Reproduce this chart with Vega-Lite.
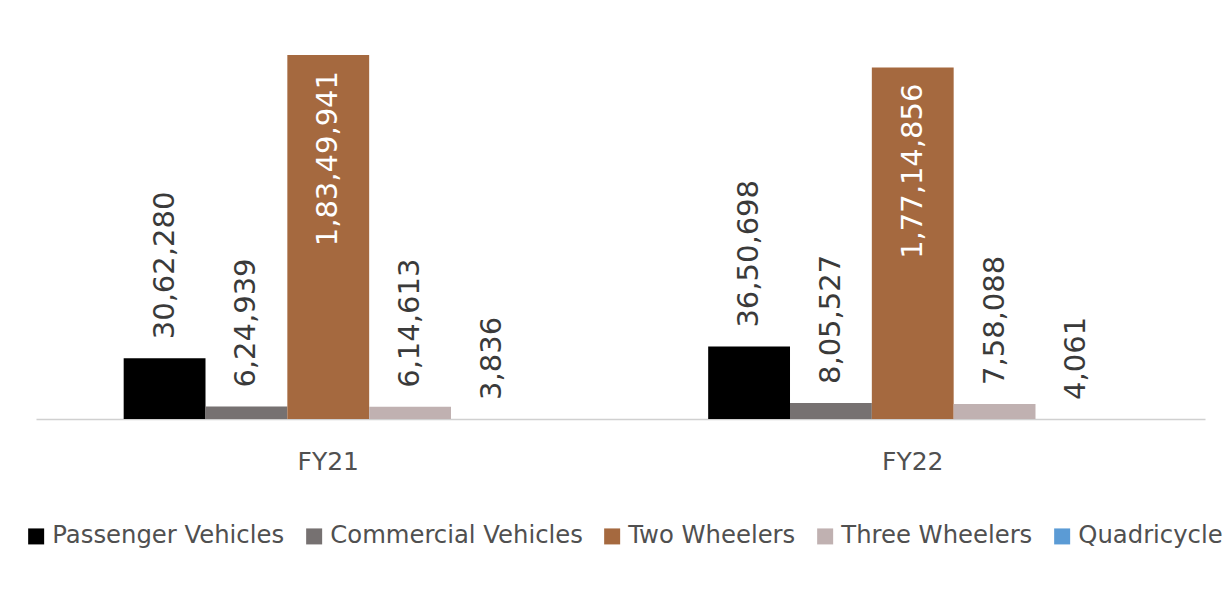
{
  "$schema": "https://vega.github.io/schema/vega-lite/v6.json",
  "width": 1169,
  "height": 400,
  "autosize": {"type": "none"},
  "padding": {"left": 36, "top": 19, "right": 27, "bottom": 183},
  "background": "#ffffff",
  "config": {
    "view": {"stroke": null},
    "font": "DejaVu Sans"
  },
  "data": {
    "values": [
      {"year": "FY21", "category": "Passenger Vehicles", "value": 3062280, "label": "30,62,280"},
      {"year": "FY21", "category": "Commercial Vehicles", "value": 624939, "label": "6,24,939"},
      {"year": "FY21", "category": "Two Wheelers", "value": 18349941, "label": "1,83,49,941"},
      {"year": "FY21", "category": "Three Wheelers", "value": 614613, "label": "6,14,613"},
      {"year": "FY21", "category": "Quadricycle", "value": 3836, "label": "3,836"},
      {"year": "FY22", "category": "Passenger Vehicles", "value": 3650698, "label": "36,50,698"},
      {"year": "FY22", "category": "Commercial Vehicles", "value": 805527, "label": "8,05,527"},
      {"year": "FY22", "category": "Two Wheelers", "value": 17714856, "label": "1,77,14,856"},
      {"year": "FY22", "category": "Three Wheelers", "value": 758088, "label": "7,58,088"},
      {"year": "FY22", "category": "Quadricycle", "value": 4061, "label": "4,061"}
    ]
  },
  "encoding": {
    "x": {
      "field": "year", "type": "nominal",
      "scale": {"paddingInner": 0.3, "paddingOuter": 0.15},
      "axis": {
        "title": null, "labelAngle": 0, "ticks": false,
        "domainColor": "#d0d0d0", "domainWidth": 1.5,
        "labelFontSize": 25, "labelColor": "#505050", "labelPadding": 30,
        "labelFont": "DejaVu Sans"
      }
    },
    "xOffset": {
      "field": "category", "type": "nominal",
      "sort": ["Passenger Vehicles", "Commercial Vehicles", "Two Wheelers", "Three Wheelers", "Quadricycle"],
      "scale": {"paddingInner": 0, "paddingOuter": 0}
    },
    "y": {
      "field": "value", "type": "quantitative",
      "scale": {"domain": [0, 20165000], "nice": false},
      "axis": null
    }
  },
  "layer": [
    {
      "mark": {"type": "bar"},
      "encoding": {
        "color": {
          "field": "category", "type": "nominal",
          "sort": ["Passenger Vehicles", "Commercial Vehicles", "Two Wheelers", "Three Wheelers", "Quadricycle"],
          "scale": {
            "domain": ["Passenger Vehicles", "Commercial Vehicles", "Two Wheelers", "Three Wheelers", "Quadricycle"],
            "range": ["#000000", "#767171", "#A5693F", "#C0B1B1", "#5B9BD5"]
          },
          "legend": {
            "title": null, "orient": "none", "direction": "horizontal",
            "legendX": -12, "legendY": 505,
            "symbolType": "square", "symbolSize": 256, "symbolStrokeWidth": 0,
            "labelFontSize": 24.3, "labelColor": "#505050", "labelFont": "DejaVu Sans",
            "columnPadding": 17, "labelOffset": 4, "labelLimit": 400
          }
        }
      }
    },
    {
      "transform": [{"filter": "datum.category !== 'Two Wheelers'"}],
      "mark": {"type": "text", "angle": -90, "align": "left", "baseline": "middle", "dx": 19, "fontSize": 29, "color": "#3a3a3a"},
      "encoding": {"text": {"field": "label"}}
    },
    {
      "transform": [{"filter": "datum.category === 'Two Wheelers'"}],
      "mark": {"type": "text", "angle": -90, "align": "right", "baseline": "middle", "dx": -16, "fontSize": 29, "color": "#ffffff"},
      "encoding": {"text": {"field": "label"}}
    }
  ]
}
